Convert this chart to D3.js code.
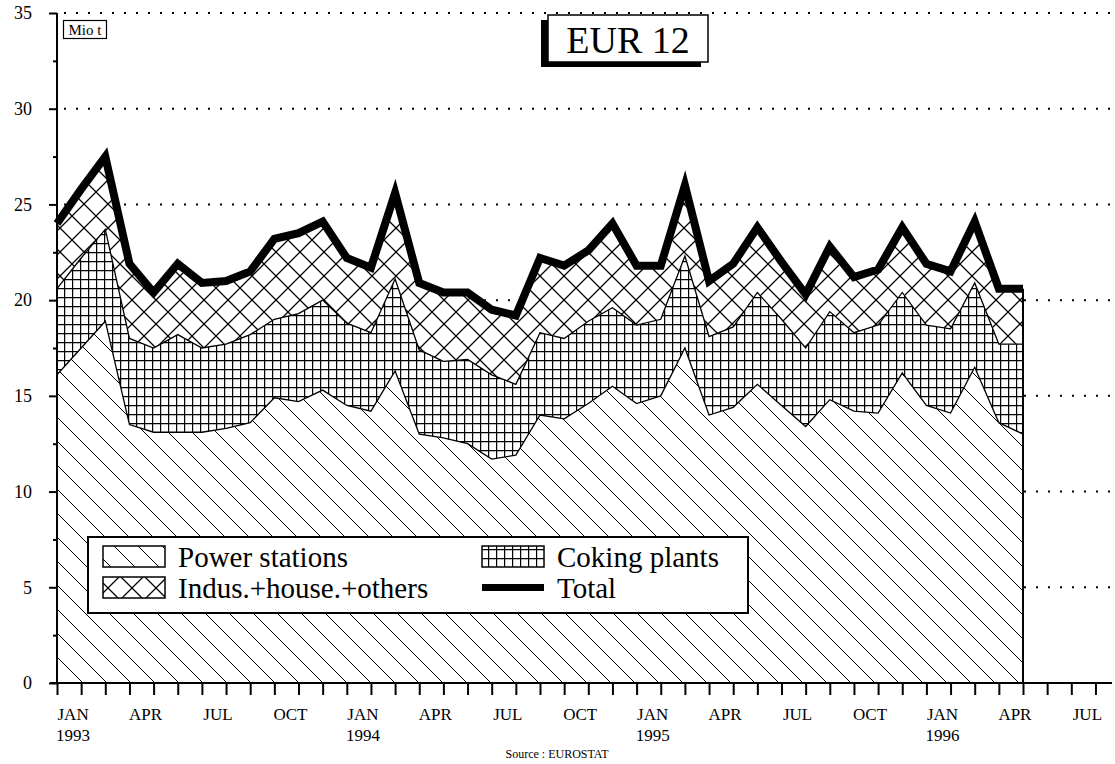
<!DOCTYPE html>
<html><head><meta charset="utf-8">
<script src="https://cdn.jsdelivr.net/npm/d3@7"></script>
<style>
body{margin:0;background:#fff}
svg{display:block}
text{font-family:"Liberation Serif","Times New Roman",serif;fill:#000}
</style>
</head><body>
<svg id="chart" width="1115" height="764"></svg>
<script>
// ---- data (Mio t), monthly, EUR 12 ----
const months = ["1993-01","1993-02","1993-03","1993-04","1993-05","1993-06","1993-07","1993-08","1993-09","1993-10","1993-11","1993-12",
  "1994-01","1994-02","1994-03","1994-04","1994-05","1994-06","1994-07","1994-08","1994-09","1994-10","1994-11","1994-12",
  "1995-01","1995-02","1995-03","1995-04","1995-05","1995-06","1995-07","1995-08","1995-09","1995-10","1995-11","1995-12",
  "1996-01","1996-02","1996-03","1996-04","1996-05"];
const power = [16.1,17.5,18.9,13.5,13.1,13.1,13.1,13.3,13.6,14.9,14.7,15.3,14.5,14.2,16.3,13.0,12.8,12.5,11.7,11.9,14.0,13.8,14.6,15.5,14.6,15.0,17.5,14.0,14.4,15.6,14.5,13.4,14.8,14.2,14.1,16.2,14.5,14.1,16.5,13.6,13.0];
const coking = [4.5,4.7,4.8,4.5,4.4,5.1,4.4,4.4,4.6,4.1,4.6,4.7,4.3,4.1,4.8,4.4,4.0,4.4,4.4,3.7,4.3,4.2,4.3,4.1,4.1,4.0,4.8,4.1,4.2,4.8,4.5,4.1,4.6,4.1,4.6,4.2,4.2,4.4,4.4,4.1,4.7];
const industry = [3.4,3.6,3.8,3.9,2.9,3.7,3.4,3.3,3.3,4.2,4.2,4.1,3.4,3.4,4.5,3.5,3.6,3.5,3.4,3.6,3.9,3.8,3.7,4.4,3.1,2.8,3.7,2.9,3.3,3.4,3.0,2.8,3.4,2.9,2.9,3.4,3.2,3.0,3.2,2.9,2.9];
const seriesNames = ["Power stations","Coking plants","Indus.+house.+others","Total"];
const yMajor = [0,5,10,15,20,25,30,35];
const xLabelMonths = ["JAN","APR","JUL","OCT","JAN","APR","JUL","OCT","JAN","APR","JUL","OCT","JAN","APR","JUL"];
const xLabelYears  = ["1993","","","","1994","","","","1995","","","","1996","",""];
const axisMonths = 44; // monthly ticks Jan 1993 .. Aug 1996

const svg = d3.select("#chart");
const x = d3.scaleLinear().domain([0, 43.5]).range([57, 57 + 43.5 * 24.15]);
const y = d3.scaleLinear().domain([0, 35]).range([683, 13]);

// ---- patterns ----
const defs = svg.append("defs");
const pP = defs.append("pattern").attr("id","pPower").attr("patternUnits","userSpaceOnUse").attr("width",24).attr("height",24);
pP.append("rect").attr("width",24).attr("height",24).attr("fill","#fff");
pP.append("path").attr("d","M0,0L24,24M-12,12L12,36M12,-12L36,12").attr("stroke","#000").attr("stroke-width",1);
const pC = defs.append("pattern").attr("id","pCoke").attr("patternUnits","userSpaceOnUse").attr("width",8).attr("height",9);
pC.append("rect").attr("width",8).attr("height",9).attr("fill","#fff");
pC.append("path").attr("d","M0.6,0V9M0,0.6H8").attr("stroke","#000").attr("stroke-width",1.2);
const pI = defs.append("pattern").attr("id","pInd").attr("patternUnits","userSpaceOnUse").attr("width",24).attr("height",24);
pI.append("rect").attr("width",24).attr("height",24).attr("fill","#fff");
pI.append("path").attr("d","M0,0L24,24M24,0L0,24M-12,12L12,36M12,-12L36,12M12,-12L-12,12M36,12L12,36").attr("stroke","#000").attr("stroke-width",1.3);
const fills = ["url(#pPower)","url(#pCoke)","url(#pInd)"];

// ---- dotted gridlines ----
svg.append("g").selectAll("line").data(yMajor.filter(v => v > 0)).join("line")
  .attr("x1", 64).attr("x2", 1112)
  .attr("y1", d => y(d)).attr("y2", d => y(d))
  .attr("stroke","#000").attr("stroke-width",2)
  .attr("stroke-dasharray","2,10");

// ---- stacked areas ----
const rows = months.map((m,i) => ({i, m, power: power[i], coking: coking[i], industry: industry[i]}));
const stack = d3.stack().keys(["power","coking","industry"]);
const layers = stack(rows);
const area = d3.area().x(d => x(d.data.i)).y0(d => y(d[0])).y1(d => y(d[1]));
const topLine = d3.line().x(d => x(d.data.i)).y(d => y(d[1]));

svg.append("g").selectAll("path").data(layers).join("path")
  .attr("d", area).attr("fill", (d,k) => fills[k]).attr("stroke","none");
svg.append("g").selectAll("path").data(layers.slice(0,2)).join("path")
  .attr("d", topLine).attr("fill","none").attr("stroke","#000").attr("stroke-width",1.3);

// right edge of data
const last = layers[2][layers[2].length - 1];
svg.append("line").attr("x1", x(last.data.i)).attr("x2", x(last.data.i))
  .attr("y1", y(0)).attr("y2", y(last[1])).attr("stroke","#000").attr("stroke-width",2);

// total line
svg.append("path").datum(layers[2]).attr("d", topLine)
  .attr("fill","none").attr("stroke","#000").attr("stroke-width",8)
  .attr("stroke-linejoin","miter").attr("stroke-miterlimit",10);

// ---- axes ----
const yAxisMajor = d3.axisLeft(y).tickValues(yMajor).tickSize(8).tickPadding(17).tickFormat(d3.format("d"));
const gy = svg.append("g").attr("transform","translate(57,0)").call(yAxisMajor);
gy.select(".domain").attr("stroke-width",2).attr("d", `M0,${y(35)}V${y(0)}`);
gy.selectAll(".tick line").attr("stroke-width",2);
gy.selectAll("text").style("font-family",'"Liberation Serif",serif').style("font-size","18px");
const yAxisMinor = d3.axisLeft(y).tickValues(d3.range(2.5, 35, 5)).tickSize(4).tickFormat("");
const gy2 = svg.append("g").attr("transform","translate(57,0)").call(yAxisMinor);
gy2.select(".domain").remove();
gy2.selectAll(".tick line").attr("stroke-width",2);

const xAxis = d3.axisBottom(x).tickValues(d3.range(0, axisMonths)).tickSize(12).tickFormat("");
const gx = svg.append("g").attr("transform",`translate(0,${y(0)})`).call(xAxis);
gx.select(".domain").attr("stroke-width",2).attr("d", "M50,0H1112");
gx.selectAll(".tick line").attr("stroke-width",2);

const lab = svg.append("g").attr("font-size", 17).attr("text-anchor","middle");
xLabelMonths.forEach((m, k) => {
  const xi = x(k*3 + 0.5) + 4;
  lab.append("text").attr("x", xi).attr("y", 720).text(m);
  if (xLabelYears[k]) lab.append("text").attr("x", xi).attr("y", 741).text(xLabelYears[k]);
});

// ---- unit box ----
svg.append("rect").attr("x",63.5).attr("y",20.5).attr("width",43).attr("height",18)
  .attr("fill","#fff").attr("stroke","#000").attr("stroke-width",1.2);
svg.append("text").attr("x",85).attr("y",34.5).attr("text-anchor","middle").attr("font-size",15).text("Mio t");

// ---- title box ----
svg.append("rect").attr("x",541).attr("y",20).attr("width",160).attr("height",47).attr("fill","#000");
svg.append("rect").attr("x",548).attr("y",15).attr("width",160).attr("height",47)
  .attr("fill","#fff").attr("stroke","#000").attr("stroke-width",1.5);
svg.append("text").attr("x",628).attr("y",53).attr("text-anchor","middle").attr("font-size",38).text("EUR 12");

// ---- legend ----
const lg = svg.append("g");
lg.append("rect").attr("x",88).attr("y",537).attr("width",660).attr("height",76)
  .attr("fill","#fff").attr("stroke","#000").attr("stroke-width",2);
const legendItems = [
  {name: seriesNames[0], fill: fills[0], sx: 103, sy: 546},
  {name: seriesNames[2], fill: fills[2], sx: 103, sy: 577},
  {name: seriesNames[1], fill: fills[1], sx: 482, sy: 546},
];
legendItems.forEach(it => {
  lg.append("rect").attr("x", it.sx).attr("y", it.sy).attr("width",62).attr("height",21)
    .attr("fill", it.fill).attr("stroke","#000").attr("stroke-width",1.5);
  lg.append("text").attr("x", it.sx + 75).attr("y", it.sy + 21).attr("font-size",29).text(it.name);
});
lg.append("rect").attr("x",482).attr("y",584).attr("width",62).attr("height",7).attr("fill","#000");
lg.append("text").attr("x",557).attr("y",598).attr("font-size",29).text(seriesNames[3]);

// ---- source ----
svg.append("text").attr("x",557).attr("y",758).attr("text-anchor","middle").attr("font-size",12).text("Source : EUROSTAT");
</script>
</body></html>
